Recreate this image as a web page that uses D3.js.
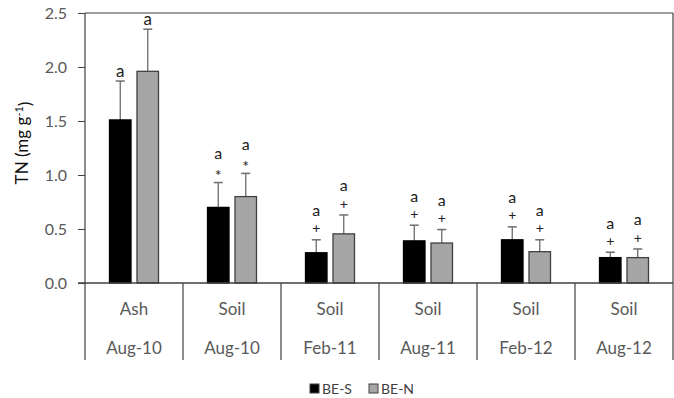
<!DOCTYPE html>
<html><head><meta charset="utf-8">
<script src="https://cdn.jsdelivr.net/npm/d3@7"></script>
<style>body{margin:0;background:#fff}svg{display:block}text{font-family:Lato,"Open Sans",sans-serif}</style>
</head><body>
<svg id="c" width="674" height="398"></svg>
<script>
const categories = ["Aug-10a","Aug-10","Feb-11","Aug-11","Feb-12","Aug-12"];
const materials = ["Ash","Soil","Soil","Soil","Soil","Soil"];
const dates = ["Aug-10","Aug-10","Feb-11","Aug-11","Feb-12","Aug-12"];
const series = ["BE-S","BE-N"];
const beS = [1.51,0.70,0.28,0.39,0.40,0.235];
const beN = [1.96,0.80,0.455,0.37,0.29,0.235];
const beSErr = [0.36,0.23,0.12,0.145,0.12,0.05];
const beNErr = [0.39,0.215,0.175,0.125,0.11,0.08];
const beSMark = ["","*","+","+","+","+"];
const beNMark = ["","*","+","+","+","+"];
const letters = ["a","a","a","a","a","a"];
const yTicks = [0,0.5,1.0,1.5,2.0,2.5];

const svg = d3.select("#c");
const L=85,R=673,T=13,B=283,Bot=360;
const y = d3.scaleLinear().domain([0,2.5]).range([B,T]);
const x = d3.scaleBand().domain(categories).range([L,R]);
const x1 = d3.scaleBand().domain(series).range([24.5,73.5]).paddingInner(0.218);
const fills = {"BE-S":"#000","BE-N":"#a6a6a6"};
const vals = {"BE-S":beS,"BE-N":beN};
const errs = {"BE-S":beSErr,"BE-N":beNErr};
const marks = {"BE-S":beSMark,"BE-N":beNMark};
const axisCol="#404040";

// y axis
const ya = svg.append("g").attr("transform",`translate(${L},0)`)
  .call(d3.axisLeft(y).tickValues(yTicks).tickFormat(d3.format(".1f")).tickSize(7).tickSizeOuter(0));
ya.select(".domain").remove();
ya.selectAll("line").attr("stroke",axisCol);
ya.selectAll("text").attr("fill","#595959").style("font-size","16px").attr("x",-18).attr("dy","0.36em");

// frame
svg.append("line").attr("x1",L).attr("x2",L).attr("y1",T).attr("y2",Bot).attr("stroke",axisCol).attr("stroke-width",1.2);
svg.append("line").attr("x1",L).attr("x2",R).attr("y1",T).attr("y2",T).attr("stroke",axisCol).attr("stroke-width",1.2);
svg.append("line").attr("x1",R).attr("x2",R).attr("y1",T).attr("y2",Bot).attr("stroke",axisCol).attr("stroke-width",1.2);

// bars
categories.forEach((c,i)=>{
  series.forEach(s=>{
    const bx = x(c)+x1(s), bw=x1.bandwidth(), v=vals[s][i], e=errs[s][i];
    const cx = bx+bw/2;
    const top = y(v+e);
    svg.append("line").attr("x1",cx).attr("x2",cx).attr("y1",y(v)).attr("y2",top).attr("stroke","#6d6d6d").attr("stroke-width",1.3);
    svg.append("line").attr("x1",cx-4.5).attr("x2",cx+4.5).attr("y1",top).attr("y2",top).attr("stroke","#6d6d6d").attr("stroke-width",1.5);
    svg.append("rect").attr("x",bx).attr("y",y(v)).attr("width",bw).attr("height",y(0)-y(v))
      .attr("fill",fills[s]).attr("stroke",s==="BE-S"?"#000":"#404040").attr("stroke-width",1.3);
    const m = marks[s][i];
    if(m){
      // significance symbol, centred ~11px above the error cap
      svg.append("text").attr("x",cx).attr("y",top-11).attr("dy",m==="*"?"0.62em":"0.33em")
        .attr("text-anchor","middle").attr("fill","#222").style("font-size",m==="*"?"16px":"14px").text(m);
      // letter, centred ~28px above the error cap
      svg.append("text").attr("x",cx).attr("y",top-28).attr("dy","0.27em")
        .attr("text-anchor","middle").attr("fill","#222").style("font-size","16px").text(letters[i]);
    } else {
      svg.append("text").attr("x",cx).attr("y",top-4).attr("text-anchor","middle").attr("fill","#222")
        .style("font-size","17px").text(letters[i]);
    }
  });
});

// x axis baseline
svg.append("line").attr("x1",L-7).attr("x2",R).attr("y1",B).attr("y2",B).attr("stroke",axisCol).attr("stroke-width",1.3);
// category separators and labels
categories.forEach((c,i)=>{
  if(i>0) svg.append("line").attr("x1",x(c)).attr("x2",x(c)).attr("y1",B).attr("y2",Bot).attr("stroke",axisCol).attr("stroke-width",1.2);
  const cx = x(c)+x.bandwidth()/2;
  svg.append("text").attr("x",cx).attr("y",309).attr("dy","0.35em").attr("text-anchor","middle")
    .style("font-size","17px").attr("fill","#595959").text(materials[i]);
  svg.append("text").attr("x",cx).attr("y",348).attr("dy","0.35em").attr("text-anchor","middle")
    .style("font-size","17px").attr("fill","#595959").text(dates[i]);
});

// y title
const yt = svg.append("text").attr("transform","translate(22,143) rotate(-90)").attr("text-anchor","middle")
  .attr("dy","0.35em").style("font-size","17px").attr("fill","#111");
yt.append("tspan").text("TN (mg g");
yt.append("tspan").attr("dy","-0.45em").style("font-size","11px").text("-1");
yt.append("tspan").attr("dy","0.45em").text(")");

// legend
const lg = svg.append("g");
const lx = [310,369];
series.forEach((s,i)=>{
  lg.append("rect").attr("x",lx[i]).attr("y",384).attr("width",9).attr("height",9).attr("fill",fills[s]).attr("stroke","#404040").attr("stroke-width",1);
  lg.append("text").attr("x",lx[i]+12).attr("y",388.5).attr("dy","0.36em").style("font-size","14px").attr("fill","#404040").text(s);
});
</script>
</body></html>
